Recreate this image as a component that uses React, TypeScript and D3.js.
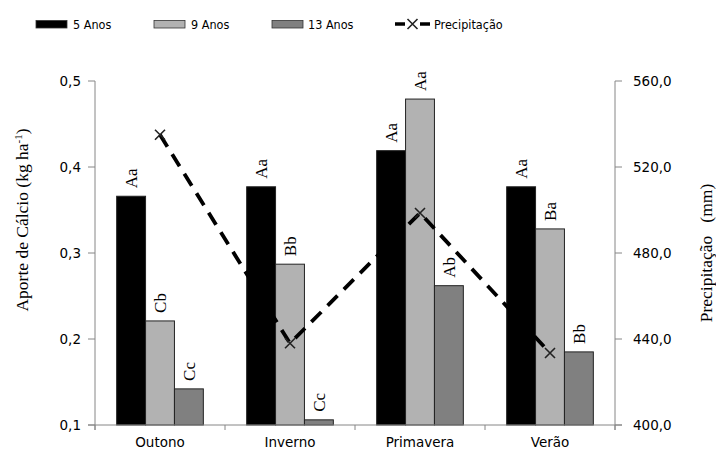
import React from "react";
import * as d3 from "d3";

const categories = ["Outono", "Inverno", "Primavera", "Verão"];
const seriesNames = ["5 Anos", "9 Anos", "13 Anos"];
const anos5 = [0.366, 0.377, 0.419, 0.377];
const anos9 = [0.221, 0.287, 0.479, 0.328];
const anos13 = [0.142, 0.106, 0.262, 0.185];
const labels5 = ["Aa", "Aa", "Aa", "Aa"];
const labels9 = ["Cb", "Bb", "Aa", "Ba"];
const labels13 = ["Cc", "Cc", "Ab", "Bb"];
const precip = [535, 438, 498.6, 433.5];
const leftTicks = [0.1, 0.2, 0.3, 0.4, 0.5];
const rightTicks = [400, 440, 480, 520, 560];
const precipName = "Precipitação";

const W = 716, H = 455;
const L = 95, R = 615, T = 81, B = 425;
const colors = ["#000000", "#b2b2b2", "#808080"];
const axisColor = "#868686";
const sans = "'DejaVu Sans', Verdana, sans-serif";
const cond = "'DejaVu Sans Condensed', 'DejaVu Sans', sans-serif";
const serif = "'Liberation Serif', 'Times New Roman', serif";

export default function App() {
  const x = d3.scaleBand<string>().domain(categories).range([L, R]).paddingInner(0.5 / 1.5).paddingOuter(0.25 / 1.5);
  const xb = d3.scaleBand<string>().domain(categories).range([L, R]);
  const sub = d3.scaleBand<number>().domain([0, 1, 2]).range([0, x.bandwidth()]);
  const yL = d3.scaleLinear().domain([0.1, 0.5]).range([B, T]);
  const yR = d3.scaleLinear().domain([400, 560]).range([B, T]);
  const series = [anos5, anos9, anos13];
  const labs = [labels5, labels9, labels13];
  const fmt1 = (v: number) => v.toFixed(1).replace(".", ",");
  const line = d3.line<number>()
    .x((_, i) => (xb(categories[i]) as number) + xb.bandwidth() / 2)
    .y((v) => yR(v));
  const xTicks = [L, ...categories.map((c) => (xb(c) as number) + xb.bandwidth())];

  const marker = (cx: number, cy: number, k: string) => (
    <path key={k} d={`M${cx - 5},${cy - 5}L${cx + 5},${cy + 5}M${cx - 5},${cy + 5}L${cx + 5},${cy - 5}`}
      stroke="#222" strokeWidth={1.6} fill="none" />
  );

  const legendItems = [
    { sx: 36, tx: 73, i: 0 },
    { sx: 154, tx: 191, i: 1 },
    { sx: 272, tx: 308, i: 2 },
  ];

  return (
    <svg width={W} height={H} style={{ position: "absolute", left: 0, top: 0, background: "#fff" }}>
      {/* legend */}
      {legendItems.map((it) => (
        <g key={it.i}>
          <rect x={it.sx} y={20.5} width={31} height={7.5} fill={colors[it.i]} stroke="#333" strokeWidth={0.8} />
          <text x={it.tx} y={29} fontFamily={cond} fontSize={12.5} fill="#000">{seriesNames[it.i]}</text>
        </g>
      ))}
      <line x1={395} x2={405} y1={24} y2={24} stroke="#000" strokeWidth={3.5} />
      <line x1={420} x2={430} y1={24} y2={24} stroke="#000" strokeWidth={3.5} />
      {marker(412.5, 24, "lm")}
      <text x={434} y={29} fontFamily={cond} fontSize={12.5} fill="#000">{precipName}</text>

      {/* bars */}
      {series.map((vals, s) =>
        vals.map((v, i) => {
          const bx = (x(categories[i]) as number) + (sub(s) as number);
          return (
            <rect key={`b${s}-${i}`} x={bx} y={yL(v)} width={sub.bandwidth()} height={B - yL(v)}
              fill={colors[s]} stroke="#222" strokeWidth={1} />
          );
        })
      )}
      {/* bar labels */}
      {series.map((vals, s) =>
        vals.map((v, i) => {
          const cx = (x(categories[i]) as number) + (sub(s) as number) + sub.bandwidth() / 2;
          const by = yL(v) - 8;
          return (
            <text key={`l${s}-${i}`} transform={`translate(${cx + 6},${by}) rotate(-90)`}
              fontFamily={serif} fontSize={17} fill="#000">{labs[s][i]}</text>
          );
        })
      )}

      {/* axes */}
      <line x1={L} x2={L} y1={T} y2={B + 5} stroke={axisColor} strokeWidth={1} />
      {leftTicks.map((t) => (
        <g key={`lt${t}`}>
          <line x1={L - 7} x2={L} y1={yL(t)} y2={yL(t)} stroke={axisColor} />
          <text x={L - 14} y={yL(t) + 5} textAnchor="end" fontFamily={sans} fontSize={13.5} fill="#000">{fmt1(t)}</text>
        </g>
      ))}
      <line x1={R} x2={R} y1={T} y2={B + 5} stroke={axisColor} strokeWidth={1} />
      {rightTicks.map((t) => (
        <g key={`rt${t}`}>
          <line x1={R} x2={R + 7} y1={yR(t)} y2={yR(t)} stroke={axisColor} />
          <text x={R + 18} y={yR(t) + 5} fontFamily={sans} fontSize={13.5} fill="#000">{fmt1(t)}</text>
        </g>
      ))}
      <line x1={L - 7} x2={R + 7} y1={B} y2={B} stroke={axisColor} strokeWidth={1} />
      {xTicks.map((t, i) => (
        <line key={`xt${i}`} x1={t} x2={t} y1={B} y2={B + 5} stroke={axisColor} />
      ))}
      {categories.map((c) => (
        <text key={c} x={(xb(c) as number) + xb.bandwidth() / 2} y={447} textAnchor="middle"
          fontFamily={sans} fontSize={13.5} fill="#000">{c}</text>
      ))}

      {/* precipitation line */}
      <path d={line(precip) as string} fill="none" stroke="#000" strokeWidth={3.8} strokeDasharray="14,9" />
      {precip.map((v, i) => marker((xb(categories[i]) as number) + xb.bandwidth() / 2, yR(v), `m${i}`))}

      {/* axis titles */}
      <text transform={`translate(28,220) rotate(-90)`} textAnchor="middle" fontFamily={serif} fontSize={17.5} fill="#000">
        Aporte de Cálcio (kg ha<tspan dy={-6} fontSize={11}>-1</tspan><tspan dy={6}>)</tspan>
      </text>
      <text transform={`translate(712,253) rotate(-90)`} textAnchor="middle" fontFamily={serif} fontSize={17.5} fill="#000" xmlSpace="preserve">
        {"Precipitação   (mm)"}
      </text>
    </svg>
  );
}
